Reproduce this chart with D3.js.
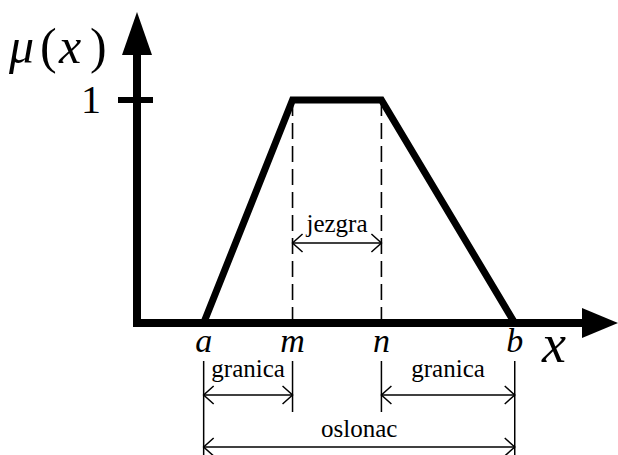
<!DOCTYPE html>
<html><head><meta charset="utf-8">
<script src="https://cdn.jsdelivr.net/npm/d3@7"></script>
<style>html,body{margin:0;padding:0;background:#fff;}svg{display:block;}</style>
</head><body>
<svg id="c" width="618" height="455"></svg>
<script>
// data
const pointLabels = ["a", "m", "n", "b"];
const pointX = [3, 7, 11, 17];
const membership = [0, 1, 1, 0];
const yTicks = [1];
const yTickLabels = ["1"];
const xAxisLabel = "x";
const yAxisLabelParts = ["μ", "(", "x", ")"];
const coreLabel = "jezgra";
const boundaryLabel = "granica";
const supportLabel = "oslonac";

const svg = d3.select("#c");
const x = d3.scaleLinear().domain([0, 18]).range([137, 137 + 18 * 22.22]);
const y = d3.scaleLinear().domain([0, 1]).range([323, 100]);
const serif = "'Liberation Serif','Times New Roman',serif";

// axes
svg.append("line").attr("x1", x(0) - 4).attr("x2", 584).attr("y1", y(0)).attr("y2", y(0))
  .attr("stroke", "#000").attr("stroke-width", 8);
svg.append("line").attr("x1", x(0)).attr("x2", x(0)).attr("y1", y(0) + 4).attr("y2", 52)
  .attr("stroke", "#000").attr("stroke-width", 8);
svg.append("path").attr("d", `M582,${y(0) - 15}L618,${y(0)}L582,${y(0) + 15}Z`).attr("fill", "#000");
svg.append("path").attr("d", `M${x(0) - 15},55L${x(0)},12L${x(0) + 15},55Z`).attr("fill", "#000");

// y ticks
yTicks.forEach((t, i) => {
  svg.append("line").attr("x1", x(0) - 19).attr("x2", x(0) + 16).attr("y1", y(t)).attr("y2", y(t))
    .attr("stroke", "#000").attr("stroke-width", 6);
  svg.append("text").attr("x", 101).attr("y", y(t) + 13).attr("text-anchor", "end")
    .attr("font-family", serif).attr("font-size", 40).text(yTickLabels[i]);
});
// y axis label μ(x)
const yl = svg.append("text").attr("y", 63).attr("font-family", serif).attr("font-size", 50);
const partX = [9, 40, 59, 90];
const partItalic = [true, false, true, false];
yAxisLabelParts.forEach((p, i) => {
  yl.append("tspan").attr("x", partX[i]).attr("font-style", partItalic[i] ? "italic" : "normal").text(p);
});
svg.append("text").attr("x", 554).attr("y", 362).attr("text-anchor", "middle").attr("font-family", serif)
  .attr("font-style", "italic").attr("font-size", 54).text(xAxisLabel);

// dashed core lines
[1, 2].forEach(i => {
  svg.append("line").attr("x1", x(pointX[i])).attr("x2", x(pointX[i]))
    .attr("y1", y(1)).attr("y2", y(0)).attr("stroke", "#000").attr("stroke-width", 1.6)
    .attr("stroke-dasharray", "16,7");
});

// trapezoid
const line = d3.line().x((d, i) => x(pointX[i])).y(d => y(d));
svg.append("path").attr("d", line(membership)).attr("fill", "none").attr("stroke", "#000")
  .attr("stroke-width", 7).attr("stroke-linejoin", "miter");

// point labels
pointLabels.forEach((l, i) => {
  svg.append("text").attr("x", x(pointX[i])).attr("y", 352).attr("text-anchor", "middle")
    .attr("font-family", serif).attr("font-style", "italic").attr("font-size", 34).text(l);
});

// dimension arrows
function dim(x1, x2, yy, label, ty) {
  const g = svg.append("g").attr("stroke", "#000").attr("stroke-width", 1.5).attr("fill", "none");
  g.append("line").attr("x1", x1).attr("x2", x2).attr("y1", yy).attr("y2", yy);
  g.append("path").attr("d", `M${x1 + 10},${yy - 9}L${x1},${yy}L${x1 + 10},${yy + 9}`);
  g.append("path").attr("d", `M${x2 - 10},${yy - 9}L${x2},${yy}L${x2 - 10},${yy + 9}`);
  svg.append("text").attr("x", (x1 + x2) / 2).attr("y", ty).attr("text-anchor", "middle")
    .attr("font-family", serif).attr("font-size", 25).text(label);
}
function vline(xx, y1, y2) {
  svg.append("line").attr("x1", xx).attr("x2", xx).attr("y1", y1).attr("y2", y2)
    .attr("stroke", "#000").attr("stroke-width", 1.5);
}
const xa = x(pointX[0]), xm = x(pointX[1]), xn = x(pointX[2]), xb = x(pointX[3]);
dim(xm, xn, 243, coreLabel, 232);
vline(xa, 361, 455);
vline(xm, 361, 412);
vline(xn, 361, 412);
vline(xb, 361, 455);
dim(xa, xm, 395, boundaryLabel, 377);
dim(xn, xb, 395, boundaryLabel, 377);
dim(xa, xb, 447, supportLabel, 437);
</script>
</body></html>
